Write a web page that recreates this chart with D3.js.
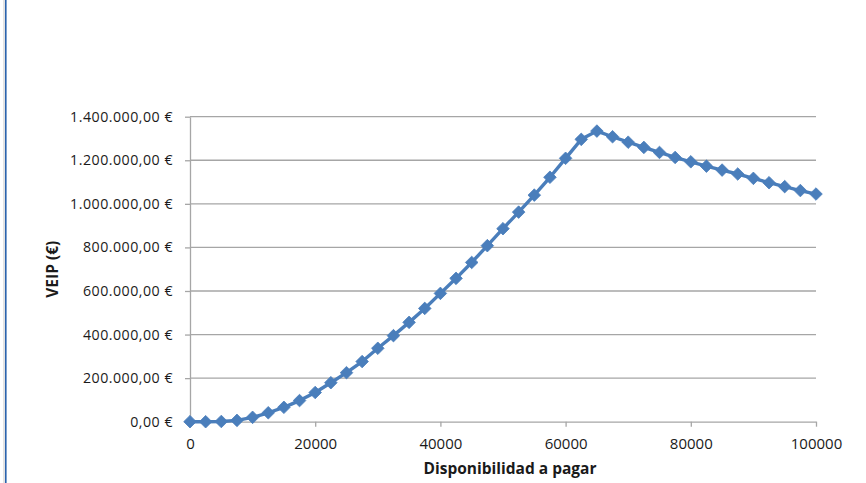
<!DOCTYPE html>
<html>
<head>
<meta charset="utf-8">
<script src="https://cdn.jsdelivr.net/npm/d3@7"></script>
<style>
  html, body { margin: 0; padding: 0; background: #fff; }
  svg { display: block; }
  text { font-family: "Open Sans", Lato, sans-serif; fill: #1a1a1a; }
</style>
</head>
<body>
<svg id="chart" width="866" height="483"></svg>
<script>
// Willingness to pay (x) against expected value of perfect information (y)
const wtp = [0, 2500, 5000, 7500, 10000, 12500, 15000, 17500, 20000, 22500,
  25000, 27500, 30000, 32500, 35000, 37500, 40000, 42500, 45000, 47500,
  50000, 52500, 55000, 57500, 60000, 62500, 65000, 67500, 70000, 72500,
  75000, 77500, 80000, 82500, 85000, 87500, 90000, 92500, 95000, 97500, 100000];
const veip = [0, 0, 1000, 6000, 20000, 41000, 66000, 97000, 134000, 179000,
  225000, 276000, 337000, 395000, 456000, 520000, 589000, 658000, 731000, 808000,
  886000, 962000, 1040000, 1122000, 1209000, 1296000, 1334000, 1308000, 1283000, 1259000,
  1236000, 1213000, 1193000, 1173000, 1155000, 1137000, 1117000, 1097000, 1079000, 1061000, 1045000];
const xTicks = [0, 20000, 40000, 60000, 80000, 100000];
const yTicks = [0, 200000, 400000, 600000, 800000, 1000000, 1200000, 1400000];
const xTitle = "Disponibilidad a pagar";
const yTitle = "VEIP (€)";

const svg = d3.select("#chart");
const plot = { left: 190, right: 816, top: 116.7, bottom: 421.7 };

const euro = d3.formatLocale({
  decimal: ",", thousands: ".", grouping: [3], currency: ["", " €"]
}).format("$,.2f");

const x = d3.scaleLinear().domain([0, 100000]).range([plot.left, plot.right]);
const y = d3.scaleLinear().domain([0, 1400000]).range([plot.bottom, plot.top]);

// frame edge on the left
svg.append("line").attr("x1", 4).attr("x2", 4).attr("y1", 0).attr("y2", 483)
  .attr("stroke", "#c8c8c8").attr("stroke-width", 1);
svg.append("line").attr("x1", 5.8).attr("x2", 5.8).attr("y1", 0).attr("y2", 483)
  .attr("stroke", "#2b63ad").attr("stroke-width", 1.6);

// horizontal gridlines
svg.append("g").selectAll("line").data(yTicks.slice(1)).join("line")
  .attr("x1", plot.left).attr("x2", plot.right)
  .attr("y1", d => y(d)).attr("y2", d => y(d))
  .attr("stroke", "#a6a6a6").attr("stroke-width", 1.3);

// y axis
const yAxis = svg.append("g").attr("transform", `translate(${plot.left},0)`)
  .call(d3.axisLeft(y).tickValues(yTicks).tickFormat(euro).tickSizeInner(5).tickSizeOuter(0).tickPadding(12));
yAxis.select(".domain").attr("stroke", "#a6a6a6").attr("stroke-width", 1.3);
yAxis.selectAll(".tick line").attr("stroke", "#a6a6a6").attr("stroke-width", 1.3);
yAxis.selectAll(".tick text").attr("font-size", 14.2).attr("letter-spacing", 0.5).attr("fill", "#1a1a1a");

// x axis
const xAxis = svg.append("g").attr("transform", `translate(0,${plot.bottom})`)
  .call(d3.axisBottom(x).tickValues(xTicks).tickFormat(d3.format("d")).tickSizeInner(5).tickSizeOuter(0).tickPadding(12));
xAxis.select(".domain").attr("stroke", "#a6a6a6").attr("stroke-width", 1.3);
xAxis.selectAll(".tick line").attr("stroke", "#a6a6a6").attr("stroke-width", 1.3);
xAxis.selectAll(".tick text").attr("font-size", 15).attr("fill", "#1a1a1a");

// axis titles
svg.append("text").attr("x", 510).attr("y", 474)
  .attr("text-anchor", "middle").attr("font-size", 15.5).attr("font-weight", "bold")
  .text(xTitle);
svg.append("text")
  .attr("transform", `translate(58,${(plot.top + plot.bottom) / 2}) rotate(-90)`)
  .attr("text-anchor", "middle").attr("font-size", 15.5).attr("font-weight", "bold")
  .text(yTitle);

// series line
const pts = wtp.map((v, i) => [v, veip[i]]);
svg.append("path").datum(pts)
  .attr("fill", "none").attr("stroke", "#4a7ebb").attr("stroke-width", 3.4)
  .attr("stroke-linejoin", "round")
  .attr("d", d3.line().x(d => x(d[0])).y(d => y(d[1])));

// diamond markers
svg.append("g").selectAll("path").data(pts).join("path")
  .attr("transform", d => `translate(${x(d[0])},${y(d[1])})`)
  .attr("d", "M0,-6.3L6.3,0L0,6.3L-6.3,0Z")
  .attr("fill", "#4a7ebb").attr("stroke", "#4a7ebb").attr("stroke-width", 0.8);
</script>
</body>
</html>
